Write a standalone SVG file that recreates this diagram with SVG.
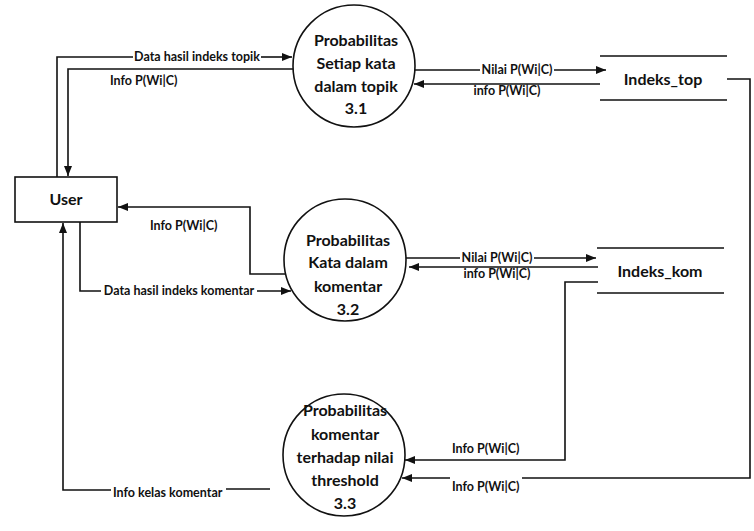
<svg xmlns="http://www.w3.org/2000/svg" width="754" height="531" viewBox="0 0 754 531">
  <defs>
    <marker id="arrow" viewBox="0 0 10 8" refX="10" refY="4" markerWidth="10" markerHeight="8" markerUnits="userSpaceOnUse" orient="auto">
      <path d="M0,0 L10,4 L0,8 Z" fill="#111"/>
    </marker>
    <style>
      .proc { fill: #fff; stroke: #111; stroke-width: 1.6; }
      .ent { fill: #fff; stroke: #111; stroke-width: 1.6; }
      .store { stroke: #111; stroke-width: 1.5; fill: none; }
      .flow { fill: none; stroke: #111; stroke-width: 1.6; }
      .arr { marker-end: url(#arrow); }
      .big { font-family: Lato, "Liberation Sans", sans-serif; font-weight: bold; font-size: 16px; fill: #111; text-anchor: middle; }
      .lbl { font-family: Lato, "Liberation Sans", sans-serif; font-weight: bold; font-size: 12.5px; fill: #111; }
      .mid { text-anchor: middle; }
    </style>
  </defs>
  <rect width="754" height="531" fill="#fff"/>

  <!-- data flows; lines break where a label sits on them -->
  <g id="connectors">
    <!-- User <-> process 3.1 -->
    <path class="flow" d="M57,177 V57 H133"/>
    <path class="flow arr" d="M261,57 H292"/>
    <text class="lbl mid" x="197" y="61">Data hasil indeks topik</text>
    <path class="flow arr" d="M294,69 H68 V176"/>
    <text class="lbl" x="110" y="85">Info P(Wi|C)</text>

    <!-- process 3.1 <-> Indeks_top -->
    <path class="flow" d="M415,70 H480"/>
    <path class="flow arr" d="M554,70 H606"/>
    <text class="lbl mid" x="517" y="74">Nilai P(Wi|C)</text>
    <path class="flow arr" d="M600,84 H414"/>
    <text class="lbl mid" x="507" y="95">info P(Wi|C)</text>

    <!-- Indeks_top -> process 3.3 -->
    <path class="flow" d="M727,79 H750 V478 H522"/>
    <path class="flow arr" d="M450,478 H402"/>
    <text class="lbl" x="452" y="491">Info P(Wi|C)</text>

    <!-- User <-> process 3.2 -->
    <path class="flow arr" d="M285,274 H250 V207 H118"/>
    <text class="lbl" x="150" y="230">Info P(Wi|C)</text>
    <path class="flow" d="M80,222 V291 H101"/>
    <path class="flow arr" d="M257,291 H291"/>
    <text class="lbl mid" x="179" y="295">Data hasil indeks komentar</text>

    <!-- process 3.2 <-> Indeks_kom -->
    <path class="flow" d="M406,258 H460"/>
    <path class="flow arr" d="M534,258 H596"/>
    <text class="lbl mid" x="497" y="262">Nilai P(Wi|C)</text>
    <path class="flow arr" d="M598,267 H409"/>
    <text class="lbl mid" x="497" y="278">info P(Wi|C)</text>

    <!-- Indeks_kom -> process 3.3 -->
    <path class="flow arr" d="M598,282 H565 V460 H405"/>
    <text class="lbl" x="452" y="453">Info P(Wi|C)</text>

    <!-- process 3.3 -> User -->
    <path class="flow" d="M270,489 H226"/>
    <path class="flow arr" d="M111,490 H63 V223"/>
    <text class="lbl" x="113" y="497">Info kelas komentar</text>
  </g>

  <!-- external entity -->
  <g id="user">
    <rect class="ent" x="15" y="177" width="102" height="45"/>
    <text class="big" x="66" y="205">User</text>
  </g>

  <!-- processes -->
  <g id="proc-3-1">
    <circle class="proc" cx="354" cy="66" r="61"/>
    <text class="big" x="356" y="46">Probabilitas</text>
    <text class="big" x="356" y="69">Setiap kata</text>
    <text class="big" x="356" y="92">dalam topik</text>
    <text class="big" x="356" y="114">3.1</text>
  </g>

  <g id="proc-3-2">
    <circle class="proc" cx="345" cy="260" r="61"/>
    <text class="big" x="348" y="246">Probabilitas</text>
    <text class="big" x="348" y="268">Kata dalam</text>
    <text class="big" x="348" y="292">komentar</text>
    <text class="big" x="348" y="315">3.2</text>
  </g>

  <g id="proc-3-3">
    <circle class="proc" cx="344" cy="455" r="61"/>
    <text class="big" x="345" y="416">Probabilitas</text>
    <text class="big" x="345" y="440">komentar</text>
    <text class="big" x="345" y="463">terhadap nilai</text>
    <text class="big" x="345" y="486">threshold</text>
    <text class="big" x="345" y="509">3.3</text>
  </g>

  <!-- data stores -->
  <g id="indeks-top">
    <path class="store" d="M600,56 H727 M600,100 H727"/>
    <text class="big" x="663" y="85">Indeks_top</text>
  </g>

  <g id="indeks-kom">
    <path class="store" d="M597,248 H724 M597,293 H724"/>
    <text class="big" x="660" y="277">Indeks_kom</text>
  </g>
</svg>
